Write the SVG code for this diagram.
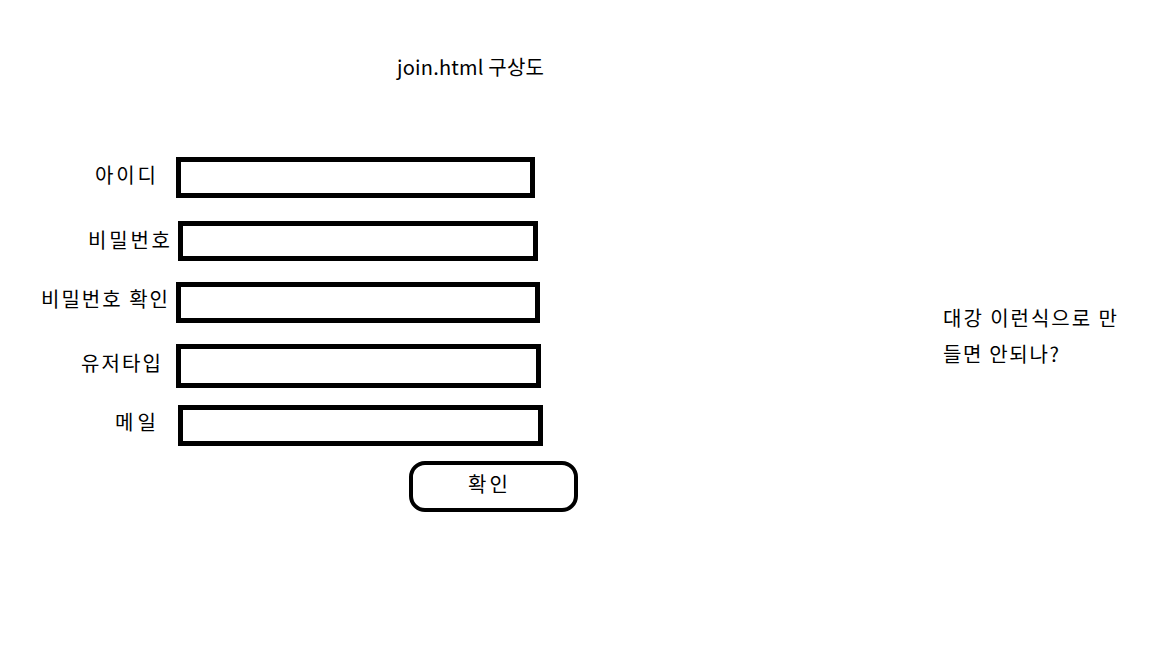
<svg xmlns="http://www.w3.org/2000/svg" width="1152" height="648" viewBox="0 0 1152 648">
<style>
text{font-family:"Noto Sans CJK KR","Noto Sans",sans-serif;font-size:20px;fill:#000}
.box{fill:#fff;stroke:#000;stroke-width:5}
.btn{fill:#fff;stroke:#000;stroke-width:4}
</style>
<rect width="1152" height="648" fill="#fff"/>
<g id="title"><text x="397" y="75" textLength="147" lengthAdjust="spacing">join.html 구상도</text></g>
<g id="id-field"><text x="95" y="183" textLength="61" lengthAdjust="spacing">아이디</text><rect class="box" x="178.5" y="159.5" width="354" height="36"/></g>
<g id="pw-field"><text x="88" y="248" textLength="82" lengthAdjust="spacing">비밀번호</text><rect class="box" x="180.5" y="223.5" width="355" height="35"/></g>
<g id="pw-confirm-field"><text x="41" y="307" textLength="127" lengthAdjust="spacing">비밀번호 확인</text><rect class="box" x="178.5" y="284.5" width="359" height="36"/></g>
<g id="usertype-field"><text x="81" y="371" textLength="80" lengthAdjust="spacing">유저타입</text><rect class="box" x="178.5" y="346.5" width="360" height="39"/></g>
<g id="mail-field"><text x="115" y="430" textLength="41" lengthAdjust="spacing">메일</text><rect class="box" x="180.5" y="407.5" width="360" height="36"/></g>
<g id="confirm-button"><rect class="btn" x="411" y="463" width="165" height="47" rx="14"/><text x="468" y="492" textLength="40" lengthAdjust="spacing">확인</text></g>
<g id="note"><text x="943" y="326" textLength="174" lengthAdjust="spacing">대강 이런식으로 만</text><text x="943" y="362" textLength="116" lengthAdjust="spacing">들면 안되나?</text></g>
<g id="connectors"></g>
</svg>
